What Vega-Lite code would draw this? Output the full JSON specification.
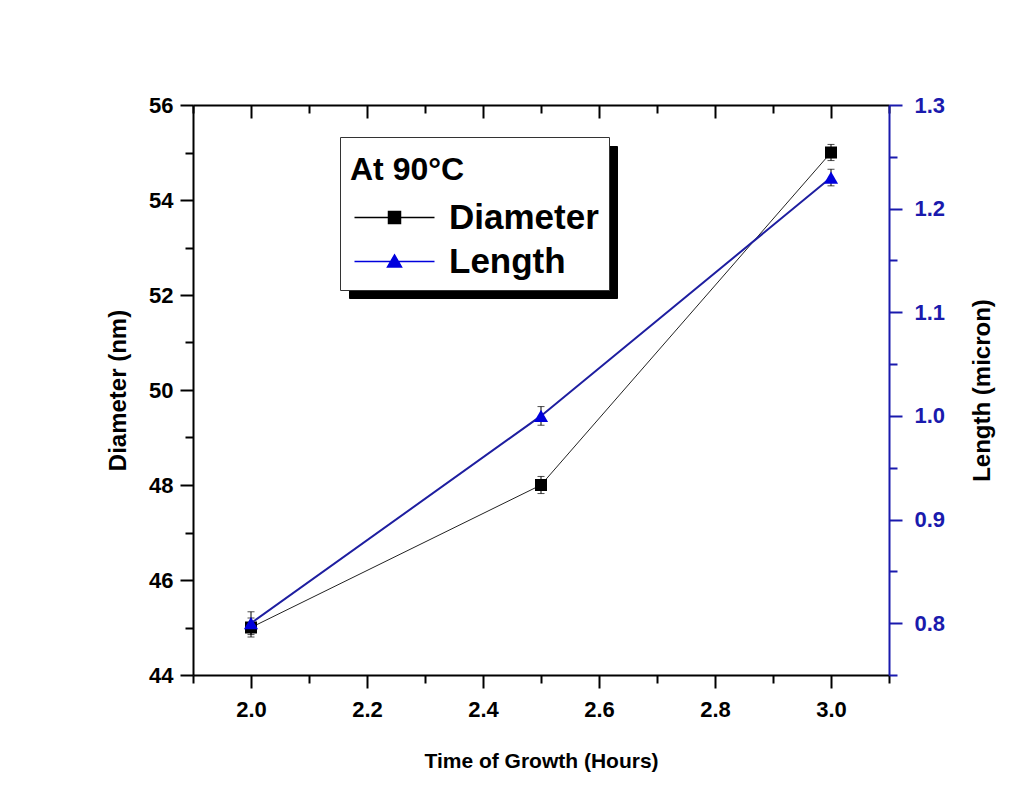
{
  "$schema": "https://vega.github.io/schema/vega-lite/v6.json",
  "width": 696,
  "height": 570,
  "autosize": "none",
  "padding": {"left": 193, "top": 105, "right": 132, "bottom": 127},
  "background": "white",
  "config": {
    "font": "Liberation Sans",
    "view": {"stroke": null},
    "axis": {
      "labelFont": "Liberation Sans", "labelFontWeight": "bold", "labelFontSize": 22,
      "titleFont": "Liberation Sans", "titleFontWeight": "bold", "titleFontSize": 24,
      "grid": false, "domainWidth": 2, "tickWidth": 2,
      "domainColor": "black", "tickColor": "black", "labelColor": "black", "titleColor": "black"
    }
  },
  "data": {"values": [
    {"time": 2.0, "series": "Diameter", "value": 45.0, "err": 0.2},
    {"time": 2.5, "series": "Diameter", "value": 48.0, "err": 0.18},
    {"time": 3.0, "series": "Diameter", "value": 55.0, "err": 0.17},
    {"time": 2.0, "series": "Length", "value": 0.80, "err": 0.011},
    {"time": 2.5, "series": "Length", "value": 1.00, "err": 0.009},
    {"time": 3.0, "series": "Length", "value": 1.23, "err": 0.008}
  ]},
  "layer": [
    {
      "transform": [{"filter": "datum.series == 'Diameter'"}],
      "encoding": {
        "x": {"field": "time", "type": "quantitative",
          "scale": {"domain": [1.9, 3.1], "nice": false, "zero": false},
          "axis": {"orient": "bottom", "title": "Time of Growth (Hours)", "titleFontSize": 21,
            "values": [1.9, 2.0, 2.1, 2.2, 2.3, 2.4, 2.5, 2.6, 2.7, 2.8, 2.9, 3.0, 3.1],
            "labelExpr": "abs(datum.value*5 - round(datum.value*5)) < 0.01 ? format(datum.value, '.1f') : ''",
            "tickSize": {"condition": {"test": "abs(datum.value*5 - round(datum.value*5)) < 0.01", "value": 13}, "value": 8},
            "labelPadding": 11, "titlePadding": 30, "labelOverlap": false}},
        "y": {"field": "value", "type": "quantitative",
          "scale": {"domain": [44, 56], "nice": false, "zero": false},
          "axis": {"orient": "left", "title": "Diameter (nm)",
            "values": [44, 45, 46, 47, 48, 49, 50, 51, 52, 53, 54, 55, 56],
            "labelExpr": "datum.value % 2 == 0 ? format(datum.value, 'd') : ''",
            "tickSize": {"condition": {"test": "datum.value % 2 == 0", "value": 13}, "value": 8},
            "labelPadding": 7, "titlePadding": 18, "labelOverlap": false}}
      },
      "layer": [
        {"mark": {"type": "errorbar", "rule": {"color": "black", "strokeWidth": 1}, "ticks": {"size": 7, "color": "black", "strokeWidth": 1}},
         "encoding": {"yError": {"field": "err"}}},
        {"mark": {"type": "line", "color": "#222222", "strokeWidth": 1}},
        {"mark": {"type": "point", "shape": "square", "filled": true, "color": "black", "size": 144, "opacity": 1}}
      ]
    },
    {
      "transform": [{"filter": "datum.series == 'Length'"}],
      "encoding": {
        "x": {"field": "time", "type": "quantitative",
          "scale": {"domain": [1.9, 3.1], "nice": false, "zero": false},
          "axis": {"orient": "top", "title": null, "labels": false,
            "values": [1.9, 2.0, 2.1, 2.2, 2.3, 2.4, 2.5, 2.6, 2.7, 2.8, 2.9, 3.0, 3.1],
            "tickSize": {"condition": {"test": "abs(datum.value*5 - round(datum.value*5)) < 0.01", "value": -13}, "value": -8}}},
        "y": {"field": "value", "type": "quantitative",
          "scale": {"domain": [0.75, 1.3], "nice": false, "zero": false},
          "axis": {"orient": "right", "title": "Length (micron)", "titleAngle": 270, "titleBaseline": "top",
            "values": [0.75, 0.8, 0.85, 0.9, 0.95, 1.0, 1.05, 1.1, 1.15, 1.2, 1.25, 1.3],
            "labelExpr": "abs(datum.value*10 - round(datum.value*10)) < 0.01 ? format(datum.value, '.1f') : ''",
            "tickSize": {"condition": {"test": "abs(datum.value*10 - round(datum.value*10)) < 0.01", "value": 13}, "value": 8},
            "domainColor": "#1a1aad", "tickColor": "#1a1aad", "labelColor": "#1a1aad",
            "labelPadding": 12, "titlePadding": 26, "labelOverlap": false}}
      },
      "layer": [
        {"mark": {"type": "errorbar", "rule": {"color": "black", "strokeWidth": 1}, "ticks": {"size": 7, "color": "black", "strokeWidth": 1}},
         "encoding": {"yError": {"field": "err"}}},
        {"mark": {"type": "line", "color": "#1e1ea0", "strokeWidth": 2}},
        {"mark": {"type": "point", "shape": "triangle-up", "filled": true, "color": "#0000dd", "size": 200, "opacity": 1}}
      ]
    },
    {
      "mark": {"type": "point", "opacity": 0, "filled": true},
      "encoding": {
        "color": {"field": "series", "type": "nominal",
          "scale": {"domain": ["Diameter", "Length"], "range": ["#000000", "#0000dd"]},
          "legend": {"title": "At 90°C", "orient": "none", "legendX": 147, "legendY": 32, "zindex": 2,
            "fillColor": "white", "strokeColor": "#333333", "padding": 10,
            "titleFont": "Liberation Sans", "titleFontWeight": "bold", "titleFontSize": 32, "titleColor": "black", "titlePadding": 21,
            "labelFont": "Liberation Sans", "labelFontWeight": "bold", "labelFontSize": 35, "labelColor": "black",
            "labelOffset": 64, "rowPadding": 8, "symbolSize": 400, "symbolStrokeWidth": 1.5, "symbolOpacity": 1,
            "encode": {
              "title": {"update": {"dy": {"value": 8}}},
              "symbols": {"update": {"fill": {"scale": "color", "field": "value"}, "stroke": {"scale": "color", "field": "value"}, "opacity": {"value": 1}}}
            }}},
        "shape": {"field": "series", "type": "nominal",
          "scale": {"domain": ["Diameter", "Length"], "range": ["M-1.3,0H6.7M2.1,-0.6H3.3V0.6H2.1Z", "M-1.3,0H6.7M2.7,-0.65L3.4,0.55H2Z"]}}
      }
    },
    {
      "mark": {"type": "point", "opacity": 0},
      "encoding": {
        "strokeDash": {"field": "series", "type": "nominal",
          "scale": {"domain": ["Length", "Diameter"]},
          "legend": {"title": null, "orient": "none", "legendX": 156, "legendY": 41, "zindex": 1,
            "fillColor": "black", "strokeColor": "black", "padding": 10,
            "labelFontSize": 10, "labelColor": "black", "labelExpr": "''", "labelOffset": 0,
            "rowPadding": 4, "symbolSize": 3600, "symbolStrokeWidth": 1, "symbolOpacity": 1,
            "symbolType": "M-1,-1H7.17V1H-1Z",
            "encode": {
              "symbols": {"update": {"fill": {"value": "black"}, "stroke": {"value": "black"}, "opacity": {"value": 1}}}
            }}}
      }
    }
  ],
  "resolve": {"scale": {"y": "independent"}, "axis": {"x": "independent", "y": "independent"}}
}
